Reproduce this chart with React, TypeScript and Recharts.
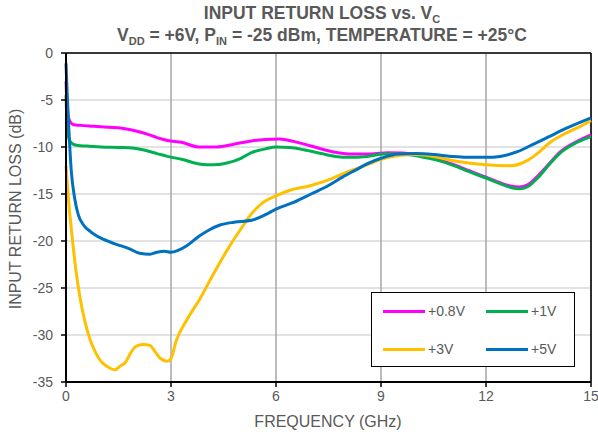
import React from 'react';
import { LineChart, Line, XAxis, YAxis, CartesianGrid, ReferenceLine } from 'recharts';

const xTicks = [0, 3, 6, 9, 12, 15];
const yTicks = [0, -5, -10, -15, -20, -25, -30, -35];

const magentaX = [0, 0.04, 0.1, 0.2, 0.4, 0.8, 1.2, 1.6, 2.0, 2.3, 2.6, 2.9, 3.3, 3.8, 4.3, 4.8, 5.3, 5.7, 6.1, 6.5, 7.0, 7.6, 8.2, 8.7, 9.2, 9.6, 10.1, 10.6, 11.1, 11.5, 12.0, 12.4, 12.7, 12.95, 13.2, 13.5, 13.8, 14.1, 14.5, 15];
const magentaY = [-3, -6, -7.2, -7.6, -7.7, -7.8, -7.9, -8.0, -8.3, -8.6, -9.0, -9.3, -9.5, -10.0, -10.0, -9.7, -9.35, -9.2, -9.15, -9.4, -9.9, -10.5, -10.75, -10.75, -10.6, -10.65, -10.9, -11.3, -11.9, -12.5, -13.2, -13.8, -14.15, -14.25, -14.0, -13.0, -11.8, -10.6, -9.6, -8.7];

const greenX = [0, 0.04, 0.1, 0.2, 0.35, 0.6, 1.0, 1.5, 1.9, 2.2, 2.6, 2.9, 3.3, 3.8, 4.2, 4.6, 5.0, 5.3, 5.7, 6.0, 6.4, 6.8, 7.3, 7.7, 8.1, 8.6, 9.1, 9.6, 10.1, 10.6, 11.1, 11.5, 12.0, 12.4, 12.7, 12.95, 13.2, 13.5, 13.8, 14.1, 14.5, 15];
const greenY = [-4.5, -8, -9.3, -9.7, -9.85, -9.9, -10.0, -10.05, -10.1, -10.3, -10.7, -11.0, -11.3, -11.8, -11.9, -11.7, -11.2, -10.6, -10.2, -10.0, -10.05, -10.3, -10.7, -11.0, -11.1, -11.0, -10.75, -10.75, -11.0, -11.4, -12.0, -12.6, -13.3, -13.9, -14.3, -14.45, -14.2, -13.2, -11.9, -10.7, -9.7, -8.9];

const yellowX = [0, 0.08, 0.16, 0.28, 0.4, 0.55, 0.7, 0.85, 1.0, 1.2, 1.4, 1.55, 1.7, 1.85, 2.0, 2.2, 2.4, 2.55, 2.7, 2.9, 3.0, 3.15, 3.45, 3.85, 4.2, 4.6, 5.0, 5.3, 5.6, 6.0, 6.4, 7.0, 7.5, 8.0, 8.6, 9.0, 9.5, 10.0, 10.5, 11.0, 11.5, 12.0, 12.7, 13.2, 13.5, 13.8, 14.3, 14.7, 15];
const yellowY = [-12, -16, -19, -23, -26, -28.7, -30.6, -31.9, -32.8, -33.4, -33.7, -33.3, -32.9, -31.9, -31.2, -31.0, -31.1, -31.8, -32.5, -32.8, -32.5, -30.6, -28.4, -26, -23.6, -21, -18.7, -17.1, -16, -15.2, -14.6, -14.1, -13.5, -12.7, -11.9, -11.3, -10.9, -10.8, -11.0, -11.4, -11.7, -11.9, -12.0, -11.4, -10.6, -9.6, -8.5, -7.8, -7.2];

const blueX = [0, 0.03, 0.08, 0.15, 0.25, 0.35, 0.5, 0.7, 1.0, 1.4, 1.8, 2.1, 2.4, 2.6, 2.8, 3.0, 3.2, 3.45, 3.8, 4.1, 4.4, 4.8, 5.3, 5.7, 6.0, 6.5, 7.0, 7.5, 7.9, 8.3, 8.6, 9.0, 9.5, 10.0, 10.5, 11.0, 11.45, 12.0, 12.4, 12.9, 13.3, 13.8, 14.3, 15];
const blueY = [-1.1, -4, -8, -12.5, -15.5, -17.2, -18.3, -19.0, -19.7, -20.3, -20.8, -21.3, -21.4, -21.2, -21.1, -21.2, -21.0, -20.5, -19.5, -18.8, -18.3, -18.0, -17.8, -17.2, -16.6, -15.9, -15.0, -14.1, -13.2, -12.4, -11.8, -11.2, -10.75, -10.7, -10.8, -11.0, -11.1, -11.1, -11.0, -10.5, -9.8, -8.9, -8.0, -6.9];

const seriesNames = ['+0.8V', '+1V', '+3V', '+5V'];
const seriesColors = ['#ff00ff', '#00b050', '#ffc000', '#0070c0'];

const zip = (xs: number[], ys: number[]) => xs.map((x, i) => ({ x, y: ys[i] }));

const series = [
  zip(magentaX, magentaY),
  zip(greenX, greenY),
  zip(yellowX, yellowY),
  zip(blueX, blueY),
];

const FONT = '"Liberation Sans", Arial, sans-serif';
const TXT = '#595959';

const subStyle: React.CSSProperties = { fontSize: 11, position: 'relative', top: 4 };

export default function App() {
  return (
    <div style={{ position: 'absolute', left: 0, top: 0, width: 598, height: 436, fontFamily: FONT, background: '#fff' }}>
      <LineChart width={598} height={436} data={series[0]} margin={{ top: 53, right: 7, bottom: 0, left: 0 }}>
        <CartesianGrid horizontal={true} vertical={false} stroke="#d9d9d9" strokeWidth={1.5} />
        <CartesianGrid horizontal={false} vertical={true} stroke="#a6a6a6" strokeWidth={1.5} />
        <XAxis
          type="number"
          dataKey="x"
          domain={[0, 15]}
          ticks={xTicks}
          height={54}
          tickSize={5}
          tickMargin={4}
          tick={{ fill: TXT, fontSize: 14, fontFamily: FONT }}
          axisLine={{ stroke: '#000', strokeWidth: 2 }}
          tickLine={{ stroke: '#000', strokeWidth: 1.5 }}
        />
        <YAxis
          type="number"
          domain={[-35, 0]}
          ticks={yTicks}
          width={66}
          tickSize={5}
          tickMargin={8}
          tick={{ fill: TXT, fontSize: 14, fontFamily: FONT }}
          axisLine={{ stroke: '#000', strokeWidth: 2 }}
          tickLine={{ stroke: '#000', strokeWidth: 1.5 }}
        />
        <ReferenceLine y={0} stroke="#000" strokeWidth={1.5} />
        <ReferenceLine x={15} stroke="#000" strokeWidth={1.5} />
        {series.map((d, i) => (
          <Line
            key={seriesNames[i]}
            data={d}
            dataKey="y"
            name={seriesNames[i]}
            type="monotone"
            stroke={seriesColors[i]}
            strokeWidth={3}
            dot={false}
            activeDot={false}
            isAnimationActive={false}
          />
        ))}
      </LineChart>

      <div style={{ position: 'absolute', left: 0, width: 644, top: 3, textAlign: 'center', color: TXT, fontWeight: 'bold', fontSize: 17.5, lineHeight: '20px' }}>
        <div>INPUT RETURN LOSS vs. V<span style={subStyle}>C</span></div>
        <div>V<span style={subStyle}>DD</span> = +6V, P<span style={subStyle}>IN</span> = -25 dBm, TEMPERATURE = +25°C</div>
      </div>

      <div style={{ position: 'absolute', left: 0, width: 656, top: 413, textAlign: 'center', color: TXT, fontSize: 16 }}>
        FREQUENCY (GHz)
      </div>

      <div style={{ position: 'absolute', left: 16, top: 209, width: 0, height: 0 }}>
        <div style={{ position: 'absolute', left: -150, top: -10, width: 300, textAlign: 'center', color: TXT, fontSize: 16, lineHeight: '20px', transform: 'rotate(-90deg)', whiteSpace: 'nowrap' }}>
          INPUT RETURN LOSS (dB)
        </div>
      </div>

      <div style={{ position: 'absolute', left: 371, top: 292, width: 204, height: 75, border: '1px solid #000', background: '#fff', boxSizing: 'border-box' }}>
        {seriesNames.map((n, i) => (
          <div key={n} style={{ position: 'absolute', left: i % 2 === 0 ? 11 : 114, top: i < 2 ? 8 : 46, display: 'flex', alignItems: 'center', height: 20 }}>
            <div style={{ width: 42, height: 3, background: seriesColors[i] }} />
            <span style={{ marginLeft: 3, color: TXT, fontSize: 14 }}>{n}</span>
          </div>
        ))}
      </div>
    </div>
  );
}
